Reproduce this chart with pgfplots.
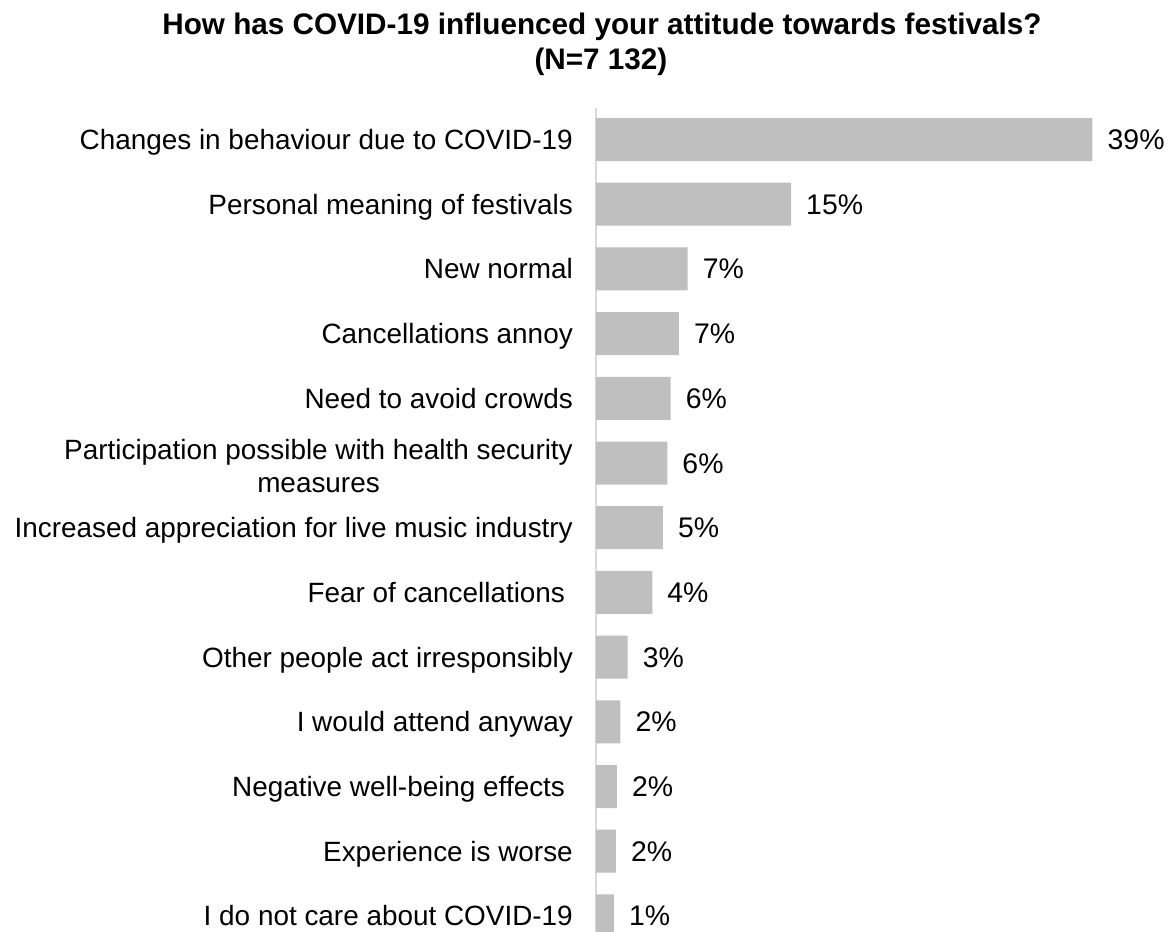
\documentclass[border=0pt]{standalone}
\usepackage{pgfplots}
\pgfplotsset{compat=1.18}
\usepackage{fontspec}
\setmainfont{Liberation Sans}
\definecolor{bargray}{HTML}{BFBFBF}
\definecolor{axgray}{HTML}{D9D9D9}
\newcommand\partlabel{\raisebox{14bp}{\begin{tabular}[t]{@{}c@{}}Participation possible with health security\\measures\end{tabular}}}
\begin{document}
\begin{tikzpicture}
\begin{axis}[
 at={(0,0)}, anchor=south west,
 scale only axis, width=580bp, height=824bp,
 xmin=0, xmax=45.56, ymin=-0.487, ymax=12.249, y dir=reverse,
 enlargelimits=false,
 axis x line=none, axis y line*=left,
 y axis line style={draw=axgray, line width=1.5bp},
 xtick=\empty,
 ytick={0,...,12},
 yticklabels={
  Changes in behaviour due to COVID-19,
  Personal meaning of festivals,
  New normal,
  Cancellations annoy,
  Need to avoid crowds,
  {\partlabel},
  Increased appreciation for live music industry,
  Fear of cancellations\kern7.8bp,
  Other people act irresponsibly,
  I would attend anyway,
  Negative well-being effects\kern7.8bp,
  Experience is worse,
  I do not care about COVID-19},
 major tick length=0pt,
 yticklabel style={font=\fontsize{28}{33.6}\selectfont, text=black, anchor=base east, inner sep=0pt, xshift=-23bp, yshift=-10bp},
 xbar, bar width=43bp,
 nodes near coords, point meta=explicit symbolic,
 nodes near coords style={font=\fontsize{28.5}{34}\selectfont, text=black, anchor=base west, inner sep=0pt, xshift=15bp, yshift=-10bp},
]
\addplot[fill=bargray, draw=none] coordinates {
 (39.0,0) [39\%]
 (15.32,1) [15\%]
 (7.20,2) [7\%]
 (6.52,3) [7\%]
 (5.87,4) [6\%]
 (5.60,5) [6\%]
 (5.26,6) [5\%]
 (4.42,7) [4\%]
 (2.49,8) [3\%]
 (1.91,9) [2\%]
 (1.65,10) [2\%]
 (1.57,11) [2\%]
 (1.41,12) [1\%]
};
\end{axis}
\node[anchor=base, font=\fontsize{29.8}{36}\selectfont\bfseries] at (6bp,897bp) {How has COVID-19 influenced your attitude towards festivals?};
\node[anchor=base, font=\fontsize{29.8}{36}\selectfont\bfseries] at (5bp,862bp) {(N=7 132)};
\pgfresetboundingbox
\path[use as bounding box] (-596bp,0) rectangle (580bp,932bp);
\end{tikzpicture}
\end{document}
